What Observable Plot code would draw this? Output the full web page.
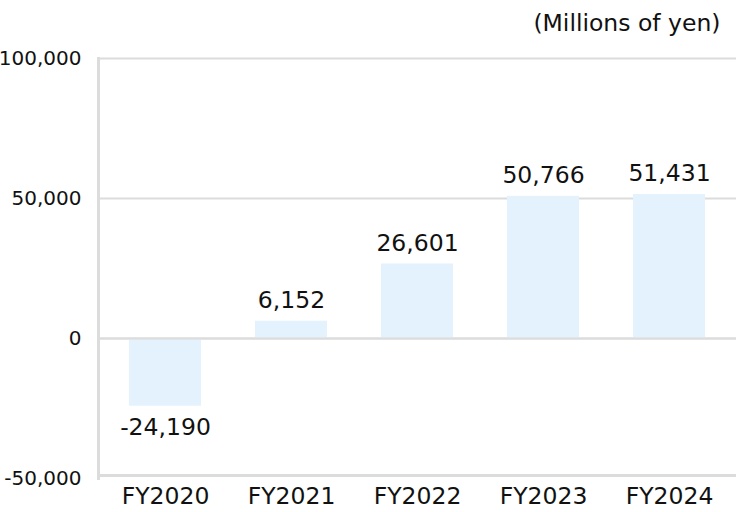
<!DOCTYPE html>
<html>
<head>
<meta charset="utf-8">
<script src="https://cdn.jsdelivr.net/npm/d3@7"></script>
<script src="https://cdn.jsdelivr.net/npm/@observablehq/plot@0.6"></script>
<style>
  html, body { margin: 0; padding: 0; background: #fff; }
  #chart svg { display: block; }
</style>
</head>
<body>
<div id="chart"></div>
<script>
const years = ["FY2020", "FY2021", "FY2022", "FY2023", "FY2024"];
const values = [-24190, 6152, 26601, 50766, 51431];
const yTicks = [-50000, 0, 50000, 100000];
const gridValues = [0, 50000, 100000];
const unitLabel = "(Millions of yen)";

const data = years.map((year, i) => ({year, value: values[i]}));
const fmt = d3.formatLocale({decimal: ".", thousands: ",", grouping: [3], currency: ["", ""], minus: "-"}).format(",");
const font = "'DejaVu Sans', sans-serif";

const chart = Plot.plot({
  width: 736,
  height: 512,
  marginTop: 58,
  marginBottom: 34,
  marginLeft: 98,
  marginRight: 0,
  style: {fontFamily: font, fontSize: "20px", color: "#111", background: "#fff"},
  x: {domain: years, paddingInner: 0.43, paddingOuter: 0.24, label: null},
  y: {domain: [-50000, 100000], label: null},
  marks: [
    Plot.ruleY(gridValues, {stroke: "#dcdcdc", strokeWidth: 2}),
    Plot.barY(data, {x: "year", y: "value", fill: "#e4f2fd"}),
    Plot.ruleY(gridValues.slice(0, 1), {stroke: "#dcdcdc", strokeWidth: 2}),
    Plot.ruleY([-50000], {stroke: "#dcdcdc", strokeWidth: 3, dy: -3}),
    Plot.frame({anchor: "left", stroke: "#dcdcdc", strokeWidth: 3, strokeOpacity: 1}),
    Plot.axisY({ticks: yTicks, tickFormat: fmt, tickSize: 0, tickPadding: 17, fontSize: 20, fill: "#111"}),
    Plot.axisX({tickSize: 0, tickPadding: 9, fontSize: 23.5, fill: "#111"}),
    Plot.text(data.filter(d => d.value >= 0), {x: "year", y: "value", text: d => fmt(d.value), dy: -21, fontSize: 23.5, fill: "#111"}),
    Plot.text(data.filter(d => d.value < 0), {x: "year", y: "value", text: d => fmt(d.value), dy: 21, fontSize: 23.5, fill: "#111"}),
    Plot.text([unitLabel], {frameAnchor: "top-right", text: d => d, dx: -16, dy: -44, fontSize: 23.5, fill: "#111", textAnchor: "end"})
  ]
});
document.getElementById("chart").appendChild(chart);
</script>
</body>
</html>
